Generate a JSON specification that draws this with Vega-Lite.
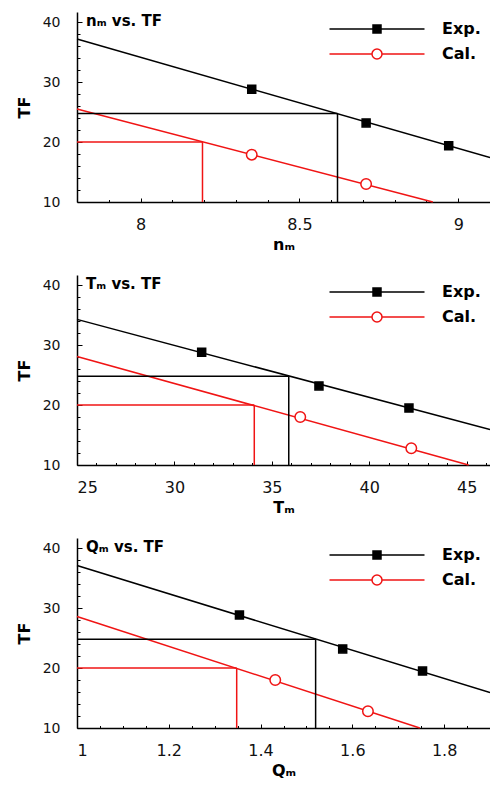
{
  "$schema": "https://vega.github.io/schema/vega-lite/v6.json",
  "padding": {"left": 16, "top": 12, "right": 0, "bottom": 0},
  "spacing": 23,
  "config": {
    "font": "DejaVu Sans",
    "view": {"stroke": null},
    "axis": {"grid": false, "domainColor": "black", "domainWidth": 1.5, "tickColor": "black", "tickWidth": 1, "labelFontSize": 14, "labelColor": "#111111", "titleFontSize": 16, "titleFontWeight": "bold", "titleColor": "black", "labelFont": "DejaVu Sans", "titleFont": "DejaVu Sans"},
    "axisBottom": {"labelFontSize": 16},
    "legend": {"orient": "none", "legendX": 252, "legendY": 9, "title": null, "padding": 0, "rowPadding": 9, "symbolOffset": 40, "labelOffset": 57, "labelFontSize": 16, "labelFontWeight": "bold", "labelColor": "black", "labelFont": "DejaVu Sans", "symbolSize": 100, "symbolStrokeWidth": 1.5}
  },
  "datasets": {
    "nm_lines": [
      {"series": "Exp.", "x": 7.8, "y": 37.2, "x2": 9.1, "y2": 17.4},
      {"series": "Cal.", "x": 7.8, "y": 25.5, "x2": 8.92, "y2": 10},
      {"series": "Exp.", "x": 7.8, "y": 24.75, "x2": 8.62, "y2": 24.75},
      {"series": "Exp.", "x": 8.62, "y": 24.75, "x2": 8.62, "y2": 10},
      {"series": "Cal.", "x": 7.8, "y": 20, "x2": 8.195, "y2": 20},
      {"series": "Cal.", "x": 8.195, "y": 20, "x2": 8.195, "y2": 10}
    ],
    "nm_pts": [
      {"series": "Exp.", "x": 8.35, "y": 28.8},
      {"series": "Exp.", "x": 8.71, "y": 23.2},
      {"series": "Exp.", "x": 8.97, "y": 19.4},
      {"series": "Cal.", "x": 8.35, "y": 17.9},
      {"series": "Cal.", "x": 8.71, "y": 13.0}
    ],
    "tm_lines": [
      {"series": "Exp.", "x": 25, "y": 34.3, "x2": 46.2, "y2": 15.9},
      {"series": "Cal.", "x": 25, "y": 28.1, "x2": 45.1, "y2": 10},
      {"series": "Exp.", "x": 25, "y": 24.8, "x2": 35.87, "y2": 24.8},
      {"series": "Exp.", "x": 35.87, "y": 24.8, "x2": 35.87, "y2": 10},
      {"series": "Cal.", "x": 25, "y": 20, "x2": 34.1, "y2": 20},
      {"series": "Cal.", "x": 34.1, "y": 20, "x2": 34.1, "y2": 10}
    ],
    "tm_pts": [
      {"series": "Exp.", "x": 31.4, "y": 28.8},
      {"series": "Exp.", "x": 37.42, "y": 23.2},
      {"series": "Exp.", "x": 42.04, "y": 19.5},
      {"series": "Cal.", "x": 36.46, "y": 18.0},
      {"series": "Cal.", "x": 42.16, "y": 12.8}
    ],
    "qm_lines": [
      {"series": "Exp.", "x": 1, "y": 37.1, "x2": 1.9, "y2": 15.9},
      {"series": "Cal.", "x": 1, "y": 28.6, "x2": 1.747, "y2": 10},
      {"series": "Exp.", "x": 1, "y": 24.8, "x2": 1.52, "y2": 24.8},
      {"series": "Exp.", "x": 1.52, "y": 24.8, "x2": 1.52, "y2": 10},
      {"series": "Cal.", "x": 1, "y": 20, "x2": 1.348, "y2": 20},
      {"series": "Cal.", "x": 1.348, "y": 20, "x2": 1.348, "y2": 10}
    ],
    "qm_pts": [
      {"series": "Exp.", "x": 1.354, "y": 28.85},
      {"series": "Exp.", "x": 1.579, "y": 23.2},
      {"series": "Exp.", "x": 1.753, "y": 19.5},
      {"series": "Cal.", "x": 1.432, "y": 18.0},
      {"series": "Cal.", "x": 1.634, "y": 12.8}
    ],
    "titles": [
      {"panel": "n", "label": "nₘ vs. TF"},
      {"panel": "T", "label": "Tₘ vs. TF"},
      {"panel": "Q", "label": "Qₘ vs. TF"}
    ]
  },
  "resolve": {"scale": {"fill": "independent", "stroke": "independent", "shape": "independent"}},
  "vconcat": [
    {
      "width": 413, "height": 190,
      "resolve": {"axis": {"x": "independent", "y": "independent"}},
      "layer": [
        {
          "data": {"name": "nm_lines"},
          "mark": {"type": "rule", "strokeWidth": 1.5},
          "encoding": {
            "x": {"field": "x", "type": "quantitative", "scale": {"domain": [7.8, 9.1], "nice": false, "zero": false},
                  "axis": {"orient": "bottom", "values": [8, 8.5, 9], "format": "~g", "tickSize": -4, "labelPadding": 18, "title": "nₘ", "titlePadding": 4}},
            "x2": {"field": "x2"},
            "y": {"field": "y", "type": "quantitative", "scale": {"domain": [10, 41.7], "nice": false, "zero": false},
                  "axis": {"orient": "left", "values": [10, 20, 30, 40], "tickSize": -5, "labelPadding": 22, "title": "TF", "titlePadding": 10}},
            "y2": {"field": "y2"},
            "stroke": {"condition": {"test": "datum.series === 'Exp.'", "value": "black"}, "value": "#f01414"}
          }
        },
        {
          "data": {"name": "nm_pts"},
          "mark": {"type": "point", "filled": true, "strokeWidth": 1.5, "opacity": 1},
          "encoding": {
            "x": {"field": "x", "type": "quantitative", "axis": {"orient": "bottom", "values": [7.9, 8.1, 8.2, 8.3, 8.4, 8.6, 8.7, 8.8, 8.9, 9.1], "tickSize": -2.5, "labels": false, "domain": false, "title": null}},
            "y": {"field": "y", "type": "quantitative", "axis": {"orient": "left", "values": [12, 14, 16, 18, 22, 24, 26, 28, 32, 34, 36, 38], "tickSize": -3, "labels": false, "domain": false, "title": null}},
            "shape": {"condition": {"test": "datum.series === 'Exp.'", "value": "square"}, "value": "circle"},
            "fill": {"condition": {"test": "datum.series === 'Exp.'", "value": "black"}, "value": "white"},
            "stroke": {"condition": {"test": "datum.series === 'Exp.'", "value": "black"}, "value": "#f01414"},
            "size": {"condition": {"test": "datum.series === 'Exp.'", "value": 64}, "value": 110}
          }
        },
        {
          "data": {"name": "nm_pts"},
          "transform": [{"filter": "false"}],
          "mark": {"type": "point", "filled": true, "strokeWidth": 1.5, "opacity": 1, "size": 100},
          "encoding": {
            "x": {"field": "x", "type": "quantitative", "axis": null},
            "y": {"field": "y", "type": "quantitative", "axis": null},
            "shape": {"field": "series", "type": "nominal", "scale": {"domain": ["Exp.", "Cal."], "range": ["M-9.5,0H9.5M-0.8,-0.8H0.8V0.8H-0.8Z", "M-9.5,0H-1M1,0H9.5M-1,0A1,1,0,1,0,1,0A1,1,0,1,0,-1,0Z"]}},
            "fill": {"field": "series", "type": "nominal", "scale": {"domain": ["Exp.", "Cal."], "range": ["black", "white"]}},
            "stroke": {"field": "series", "type": "nominal", "scale": {"domain": ["Exp.", "Cal."], "range": ["black", "#f01414"]}}
          }
        },
        {
          "data": {"name": "titles"},
          "transform": [{"filter": "datum.panel === 'n'"}],
          "mark": {"type": "text", "align": "left", "baseline": "top", "dx": 9, "dy": 2, "fontSize": 15, "fontWeight": "bold", "color": "black"},
          "encoding": {
            "x": {"datum": 7.8, "type": "quantitative", "axis": null},
            "y": {"datum": 41.7, "type": "quantitative", "axis": null},
            "text": {"field": "label"}
          }
        }
      ]
    },
    {
      "width": 413, "height": 190,
      "resolve": {"axis": {"x": "independent", "y": "independent"}},
      "layer": [
        {
          "data": {"name": "tm_lines"},
          "mark": {"type": "rule", "strokeWidth": 1.5},
          "encoding": {
            "x": {"field": "x", "type": "quantitative", "scale": {"domain": [25, 46.2], "nice": false, "zero": false},
                  "axis": {"orient": "bottom", "values": [25, 30, 35, 40, 45], "format": "~g", "tickSize": -4, "labelPadding": 18, "title": "Tₘ", "titlePadding": 4}},
            "x2": {"field": "x2"},
            "y": {"field": "y", "type": "quantitative", "scale": {"domain": [10, 41.7], "nice": false, "zero": false},
                  "axis": {"orient": "left", "values": [10, 20, 30, 40], "tickSize": -5, "labelPadding": 22, "title": "TF", "titlePadding": 10}},
            "y2": {"field": "y2"},
            "stroke": {"condition": {"test": "datum.series === 'Exp.'", "value": "black"}, "value": "#f01414"}
          }
        },
        {
          "data": {"name": "tm_pts"},
          "mark": {"type": "point", "filled": true, "strokeWidth": 1.5, "opacity": 1},
          "encoding": {
            "x": {"field": "x", "type": "quantitative", "axis": {"orient": "bottom", "values": [26, 27, 28, 29, 31, 32, 33, 34, 36, 37, 38, 39, 41, 42, 43, 44, 46], "tickSize": -2.5, "labels": false, "domain": false, "title": null}},
            "y": {"field": "y", "type": "quantitative", "axis": {"orient": "left", "values": [12, 14, 16, 18, 22, 24, 26, 28, 32, 34, 36, 38], "tickSize": -3, "labels": false, "domain": false, "title": null}},
            "shape": {"condition": {"test": "datum.series === 'Exp.'", "value": "square"}, "value": "circle"},
            "fill": {"condition": {"test": "datum.series === 'Exp.'", "value": "black"}, "value": "white"},
            "stroke": {"condition": {"test": "datum.series === 'Exp.'", "value": "black"}, "value": "#f01414"},
            "size": {"condition": {"test": "datum.series === 'Exp.'", "value": 64}, "value": 110}
          }
        },
        {
          "data": {"name": "tm_pts"},
          "transform": [{"filter": "false"}],
          "mark": {"type": "point", "filled": true, "strokeWidth": 1.5, "opacity": 1, "size": 100},
          "encoding": {
            "x": {"field": "x", "type": "quantitative", "axis": null},
            "y": {"field": "y", "type": "quantitative", "axis": null},
            "shape": {"field": "series", "type": "nominal", "scale": {"domain": ["Exp.", "Cal."], "range": ["M-9.5,0H9.5M-0.8,-0.8H0.8V0.8H-0.8Z", "M-9.5,0H-1M1,0H9.5M-1,0A1,1,0,1,0,1,0A1,1,0,1,0,-1,0Z"]}},
            "fill": {"field": "series", "type": "nominal", "scale": {"domain": ["Exp.", "Cal."], "range": ["black", "white"]}},
            "stroke": {"field": "series", "type": "nominal", "scale": {"domain": ["Exp.", "Cal."], "range": ["black", "#f01414"]}}
          }
        },
        {
          "data": {"name": "titles"},
          "transform": [{"filter": "datum.panel === 'T'"}],
          "mark": {"type": "text", "align": "left", "baseline": "top", "dx": 9, "dy": 2, "fontSize": 15, "fontWeight": "bold", "color": "black"},
          "encoding": {
            "x": {"datum": 25, "type": "quantitative", "axis": null},
            "y": {"datum": 41.7, "type": "quantitative", "axis": null},
            "text": {"field": "label"}
          }
        }
      ]
    },
    {
      "width": 413, "height": 190,
      "resolve": {"axis": {"x": "independent", "y": "independent"}},
      "layer": [
        {
          "data": {"name": "qm_lines"},
          "mark": {"type": "rule", "strokeWidth": 1.5},
          "encoding": {
            "x": {"field": "x", "type": "quantitative", "scale": {"domain": [1, 1.9], "nice": false, "zero": false},
                  "axis": {"orient": "bottom", "values": [1, 1.2, 1.4, 1.6, 1.8], "format": "~g", "tickSize": -4, "labelPadding": 18, "title": "Qₘ", "titlePadding": 4}},
            "x2": {"field": "x2"},
            "y": {"field": "y", "type": "quantitative", "scale": {"domain": [10, 41.7], "nice": false, "zero": false},
                  "axis": {"orient": "left", "values": [10, 20, 30, 40], "tickSize": -5, "labelPadding": 22, "title": "TF", "titlePadding": 10}},
            "y2": {"field": "y2"},
            "stroke": {"condition": {"test": "datum.series === 'Exp.'", "value": "black"}, "value": "#f01414"}
          }
        },
        {
          "data": {"name": "qm_pts"},
          "mark": {"type": "point", "filled": true, "strokeWidth": 1.5, "opacity": 1},
          "encoding": {
            "x": {"field": "x", "type": "quantitative", "axis": {"orient": "bottom", "values": [1.05, 1.1, 1.15, 1.25, 1.3, 1.35, 1.45, 1.5, 1.55, 1.65, 1.7, 1.75, 1.85, 1.9], "tickSize": -2.5, "labels": false, "domain": false, "title": null}},
            "y": {"field": "y", "type": "quantitative", "axis": {"orient": "left", "values": [12, 14, 16, 18, 22, 24, 26, 28, 32, 34, 36, 38], "tickSize": -3, "labels": false, "domain": false, "title": null}},
            "shape": {"condition": {"test": "datum.series === 'Exp.'", "value": "square"}, "value": "circle"},
            "fill": {"condition": {"test": "datum.series === 'Exp.'", "value": "black"}, "value": "white"},
            "stroke": {"condition": {"test": "datum.series === 'Exp.'", "value": "black"}, "value": "#f01414"},
            "size": {"condition": {"test": "datum.series === 'Exp.'", "value": 64}, "value": 110}
          }
        },
        {
          "data": {"name": "qm_pts"},
          "transform": [{"filter": "false"}],
          "mark": {"type": "point", "filled": true, "strokeWidth": 1.5, "opacity": 1, "size": 100},
          "encoding": {
            "x": {"field": "x", "type": "quantitative", "axis": null},
            "y": {"field": "y", "type": "quantitative", "axis": null},
            "shape": {"field": "series", "type": "nominal", "scale": {"domain": ["Exp.", "Cal."], "range": ["M-9.5,0H9.5M-0.8,-0.8H0.8V0.8H-0.8Z", "M-9.5,0H-1M1,0H9.5M-1,0A1,1,0,1,0,1,0A1,1,0,1,0,-1,0Z"]}},
            "fill": {"field": "series", "type": "nominal", "scale": {"domain": ["Exp.", "Cal."], "range": ["black", "white"]}},
            "stroke": {"field": "series", "type": "nominal", "scale": {"domain": ["Exp.", "Cal."], "range": ["black", "#f01414"]}}
          }
        },
        {
          "data": {"name": "titles"},
          "transform": [{"filter": "datum.panel === 'Q'"}],
          "mark": {"type": "text", "align": "left", "baseline": "top", "dx": 9, "dy": 2, "fontSize": 15, "fontWeight": "bold", "color": "black"},
          "encoding": {
            "x": {"datum": 1, "type": "quantitative", "axis": null},
            "y": {"datum": 41.7, "type": "quantitative", "axis": null},
            "text": {"field": "label"}
          }
        }
      ]
    }
  ]
}
